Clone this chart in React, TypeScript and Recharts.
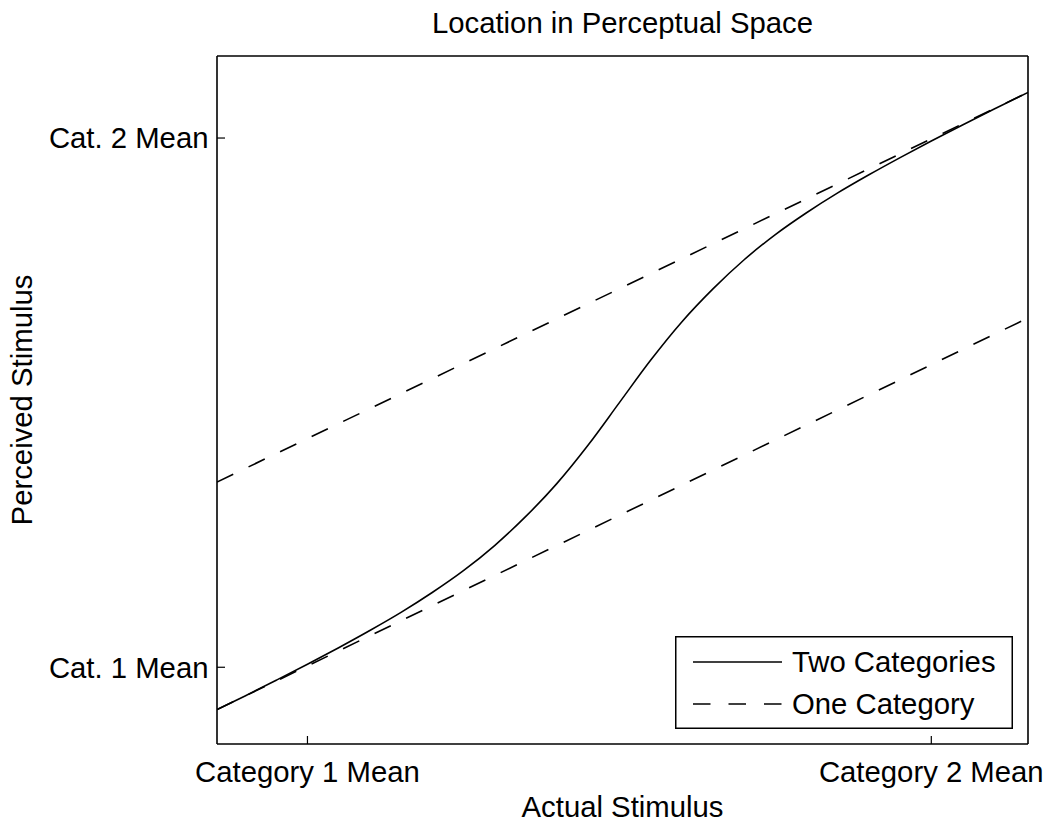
import React from 'react';
import { LineChart, Line, XAxis, YAxis, Legend, Label } from 'recharts';

const FONT = '"Liberation Sans", Arial, Helvetica, sans-serif';
const FS = 29.3;

const titleText = 'Location in Perceptual Space';
const xAxisTitle = 'Actual Stimulus';
const yAxisTitle = 'Perceived Stimulus';

const xTickValues = [-2, 2];
const xTickLabels = ['Category 1 Mean', 'Category 2 Mean'];
const yTickValues = [-2, 2];
const yTickLabels = ['Cat. 1 Mean', 'Cat. 2 Mean'];
const axisDomain: [number, number] = [-2.58, 2.62];

// Two Categories (solid curve)
const twoCatX = [-2.58, -2.4, -2.2, -2.0, -1.8, -1.6, -1.4, -1.2, -1.0, -0.8, -0.6, -0.4, -0.2, 0, 0.2, 0.4, 0.6, 0.8, 1.0, 1.2, 1.4, 1.6, 1.8, 2.0, 2.2, 2.4, 2.62];
const twoCatY = [-2.32, -2.217, -2.098, -1.977, -1.852, -1.722, -1.585, -1.435, -1.27, -1.08, -0.86, -0.61, -0.32, 0, 0.32, 0.61, 0.86, 1.08, 1.27, 1.435, 1.585, 1.722, 1.852, 1.977, 2.098, 2.217, 2.345];

// One Category (dashed lines)
const oneCatLowX = [-2.58, 2.62];
const oneCatLowY = [-2.32, 0.64];
const oneCatHighX = [-2.58, 2.62];
const oneCatHighY = [-0.6, 2.345];

const legendLabels = ['Two Categories', 'One Category'];

const zip = (xs: number[], ys: number[]) => xs.map((x, i) => ({ x, y: ys[i] }));
const twoCatData = zip(twoCatX, twoCatY);
const oneCatLowData = zip(oneCatLowX, oneCatLowY);
const oneCatHighData = zip(oneCatHighX, oneCatHighY);

const axisLineStyle = { stroke: '#000', strokeWidth: 1.6 };
const tickLineStyle = { stroke: '#000', strokeWidth: 1.2 };
const tickStyle = { fill: '#000', fontSize: FS, fontFamily: FONT };

const xTickFmt = (v: number) => xTickLabels[xTickValues.indexOf(v)] ?? '';
const yTickFmt = (v: number) => yTickLabels[yTickValues.indexOf(v)] ?? '';

const TitleLabel = (props: any) => {
  const vb = props.viewBox || { x: 217, y: 0, width: 811, height: 56 };
  return (
    <text x={vb.x + vb.width / 2} y={vb.y + 33.3} textAnchor="middle" fontSize={FS} fontFamily={FONT} fill="#000">
      {titleText}
    </text>
  );
};

const XTitleLabel = (props: any) => {
  const vb = props.viewBox || { x: 217, y: 744, width: 811, height: 86 };
  return (
    <text x={vb.x + vb.width / 2} y={vb.y + 72.7} textAnchor="middle" fontSize={FS} fontFamily={FONT} fill="#000">
      {xAxisTitle}
    </text>
  );
};

const YTitleLabel = (props: any) => {
  const vb = props.viewBox || { x: 0, y: 56, width: 217, height: 688 };
  const x0 = vb.x + 32;
  const y0 = vb.y + vb.height / 2;
  return (
    <text x={x0} y={y0} transform={`rotate(-90 ${x0} ${y0})`} textAnchor="middle" fontSize={FS} fontFamily={FONT} fill="#000">
      {yAxisTitle}
    </text>
  );
};

const LegendBox = () => (
  <svg width={338} height={93} style={{ display: 'block' }}>
    <rect x={0.75} y={0.75} width={336.5} height={91.5} fill="#fff" stroke="#000" strokeWidth={1.5} />
    <line x1={18} x2={107} y1={26} y2={26} stroke="#000" strokeWidth={1.6} />
    <text x={117} y={36.4} fontSize={FS} fontFamily={FONT} fill="#000">{legendLabels[0]}</text>
    <line x1={18} x2={107} y1={68} y2={68} stroke="#000" strokeWidth={1.6} strokeDasharray="17.5 18" />
    <text x={117} y={78.4} fontSize={FS} fontFamily={FONT} fill="#000">{legendLabels[1]}</text>
  </svg>
);

export default function App() {
  return (
    <div style={{ position: 'absolute', left: 0, top: 0, width: 1050, height: 830, background: '#fff' }}>
      <LineChart width={1050} height={830} margin={{ top: 0, right: 0, bottom: 0, left: 0 }}>
        <XAxis
          xAxisId="bottom"
          orientation="bottom"
          type="number"
          dataKey="x"
          domain={axisDomain}
          allowDataOverflow
          ticks={xTickValues}
          interval={0}
          tickFormatter={xTickFmt}
          height={86}
          tickSize={-8}
          tickMargin={25}
          axisLine={axisLineStyle}
          tickLine={tickLineStyle}
          tick={tickStyle}
        >
          <Label content={XTitleLabel} />
        </XAxis>
        <XAxis
          xAxisId="top"
          orientation="top"
          type="number"
          dataKey="x"
          domain={axisDomain}
          allowDataOverflow
          ticks={xTickValues}
          interval={0}
          height={56}
          tickSize={-8}
          axisLine={axisLineStyle}
          tickLine={tickLineStyle}
          tick={false}
        >
          <Label content={TitleLabel} />
        </XAxis>
        <YAxis
          yAxisId="left"
          orientation="left"
          type="number"
          domain={axisDomain}
          allowDataOverflow
          ticks={yTickValues}
          interval={0}
          tickFormatter={yTickFmt}
          width={217}
          tickSize={-8}
          tickMargin={16.5}
          axisLine={axisLineStyle}
          tickLine={tickLineStyle}
          tick={tickStyle}
        >
          <Label content={YTitleLabel} />
        </YAxis>
        <YAxis
          yAxisId="right"
          orientation="right"
          type="number"
          domain={axisDomain}
          allowDataOverflow
          ticks={yTickValues}
          interval={0}
          width={22}
          tickSize={-8}
          axisLine={axisLineStyle}
          tickLine={tickLineStyle}
          tick={false}
        />
        <Line
          xAxisId="bottom"
          yAxisId="left"
          data={oneCatHighData}
          dataKey="y"
          name={legendLabels[1]}
          type="linear"
          stroke="#000"
          strokeWidth={1.6}
          strokeDasharray="18 17"
          dot={false}
          activeDot={false}
          isAnimationActive={false}
        />
        <Line
          xAxisId="bottom"
          yAxisId="left"
          data={oneCatLowData}
          dataKey="y"
          name={legendLabels[1]}
          type="linear"
          stroke="#000"
          strokeWidth={1.6}
          strokeDasharray="18 17"
          dot={false}
          activeDot={false}
          isAnimationActive={false}
        />
        <Line
          xAxisId="bottom"
          yAxisId="left"
          data={twoCatData}
          dataKey="y"
          name={legendLabels[0]}
          type="monotone"
          stroke="#000"
          strokeWidth={1.6}
          dot={false}
          activeDot={false}
          isAnimationActive={false}
        />
        <Legend
          content={LegendBox}
          layout="horizontal"
          verticalAlign="middle"
          align="center"
          wrapperStyle={{ left: 675, top: 636, width: 338, height: 93 }}
        />
      </LineChart>
    </div>
  );
}
